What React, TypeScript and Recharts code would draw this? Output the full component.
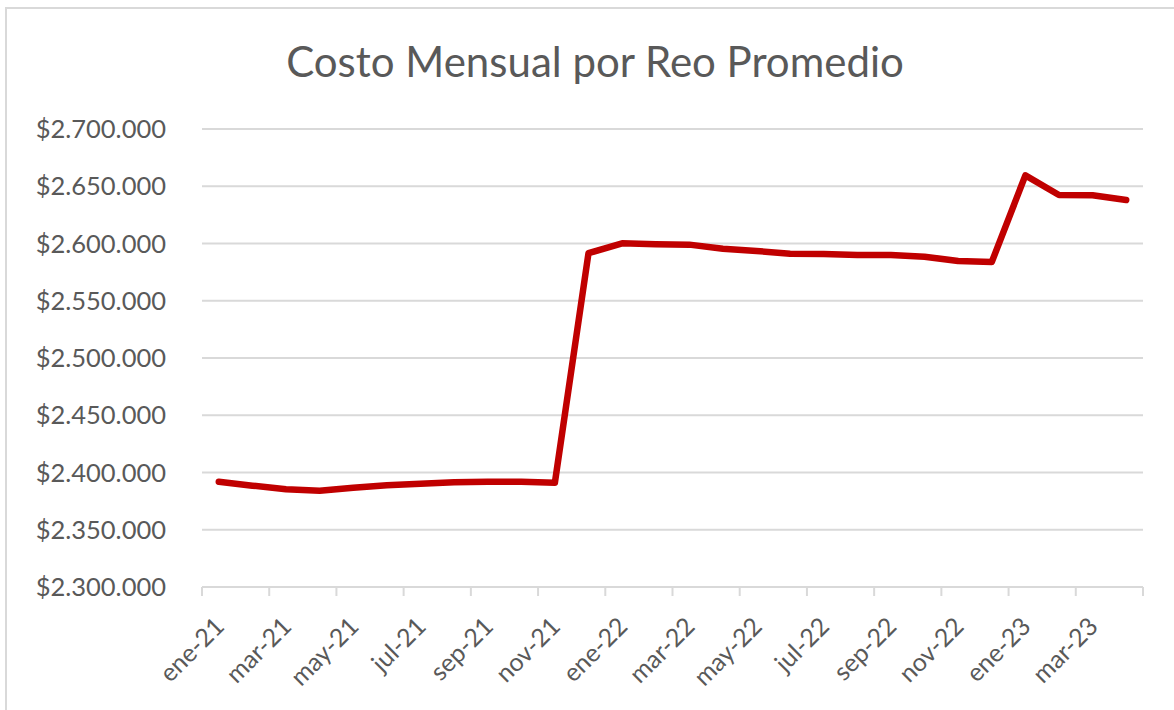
import React from 'react';
import { LineChart, Line, XAxis, YAxis, CartesianGrid } from 'recharts';

const months = [
  'ene-21', 'feb-21', 'mar-21', 'abr-21', 'may-21', 'jun-21', 'jul-21', 'ago-21',
  'sep-21', 'oct-21', 'nov-21', 'dic-21', 'ene-22', 'feb-22', 'mar-22', 'abr-22',
  'may-22', 'jun-22', 'jul-22', 'ago-22', 'sep-22', 'oct-22', 'nov-22', 'dic-22',
  'ene-23', 'feb-23', 'mar-23', 'abr-23',
];

const costo = [
  2392000, 2388500, 2385300, 2384000, 2386700, 2388800, 2390200, 2391400,
  2392000, 2392000, 2391000, 2591500, 2600200, 2599300, 2599000, 2595500,
  2593500, 2591100, 2590800, 2590000, 2590000, 2588500, 2584700, 2583800,
  2659500, 2642400, 2642200, 2638000,
];

const yTicks = [2300000, 2350000, 2400000, 2450000, 2500000, 2550000, 2600000, 2650000, 2700000];

// category boundaries every two months, as Excel does
const xTicks = months.map((_, i) => i).filter((i) => i % 2 === 0).concat(months.length);

const data = months.map((m, i) => ({ x: i + 0.5, mes: m, costo: costo[i] }));

const W = 1174;
const H = 710;
const PLOT_LEFT = 202;
const PLOT_RIGHT = 31;
const FONT = 'Lato, "Open Sans", sans-serif';
const TEXT = '#595959';
const GRID = '#d9d9d9';

const fmt = (v: number) => '$' + String(v).replace(/\B(?=(\d{3})+(?!\d))/g, '.');

const halfStep = (W - PLOT_LEFT - PLOT_RIGHT) / months.length / 2;

function MonthTick(props: any) {
  const { x, y, payload } = props;
  const idx = payload.value as number;
  if (idx >= months.length) return null;
  const tx = x + halfStep + 7;
  const ty = y + 30;
  return (
    <text
      x={tx}
      y={ty}
      transform={`rotate(-45, ${tx}, ${ty})`}
      textAnchor="end"
      fill={TEXT}
      fontSize={25}
      fontFamily={FONT}
    >
      {months[idx]}
    </text>
  );
}

export default function App() {
  return (
    <div style={{ position: 'absolute', left: 0, top: 0, width: W, height: H, background: '#fff', overflow: 'hidden' }}>
      <div
        style={{
          position: 'absolute',
          left: 5,
          top: 7,
          width: W + 20,
          height: H + 20,
          border: `2px solid ${GRID}`,
        }}
      />
      <div
        style={{
          position: 'absolute',
          left: 0,
          top: 40,
          width: 1190,
          textAlign: 'center',
          fontFamily: FONT,
          fontSize: 42,
          lineHeight: 1,
          color: TEXT,
        }}
      >
        Costo Mensual por Reo Promedio
      </div>
      <div style={{ position: 'absolute', left: 0, top: 0 }}>
        <LineChart width={W} height={H} data={data} margin={{ top: 129, right: PLOT_RIGHT, bottom: 0, left: 0 }}>
          <CartesianGrid vertical={false} stroke={GRID} strokeWidth={2} />
          <XAxis
            dataKey="x"
            type="number"
            domain={[0, months.length]}
            ticks={xTicks}
            interval={0}
            height={123}
            stroke={GRID}
            strokeWidth={2}
            tickSize={9}
            tick={<MonthTick />}
          />
          <YAxis
            domain={[2300000, 2700000]}
            ticks={yTicks}
            width={PLOT_LEFT}
            axisLine={false}
            tickLine={false}
            tickSize={0}
            tickMargin={36}
            tickFormatter={fmt}
            tick={{ fill: TEXT, fontSize: 25.5, fontFamily: FONT }}
          />
          <Line
            type="linear"
            dataKey="costo"
            stroke="#c00000"
            strokeWidth={6.5}
            strokeLinecap="round"
            strokeLinejoin="round"
            dot={false}
            activeDot={false}
            isAnimationActive={false}
          />
        </LineChart>
      </div>
    </div>
  );
}
